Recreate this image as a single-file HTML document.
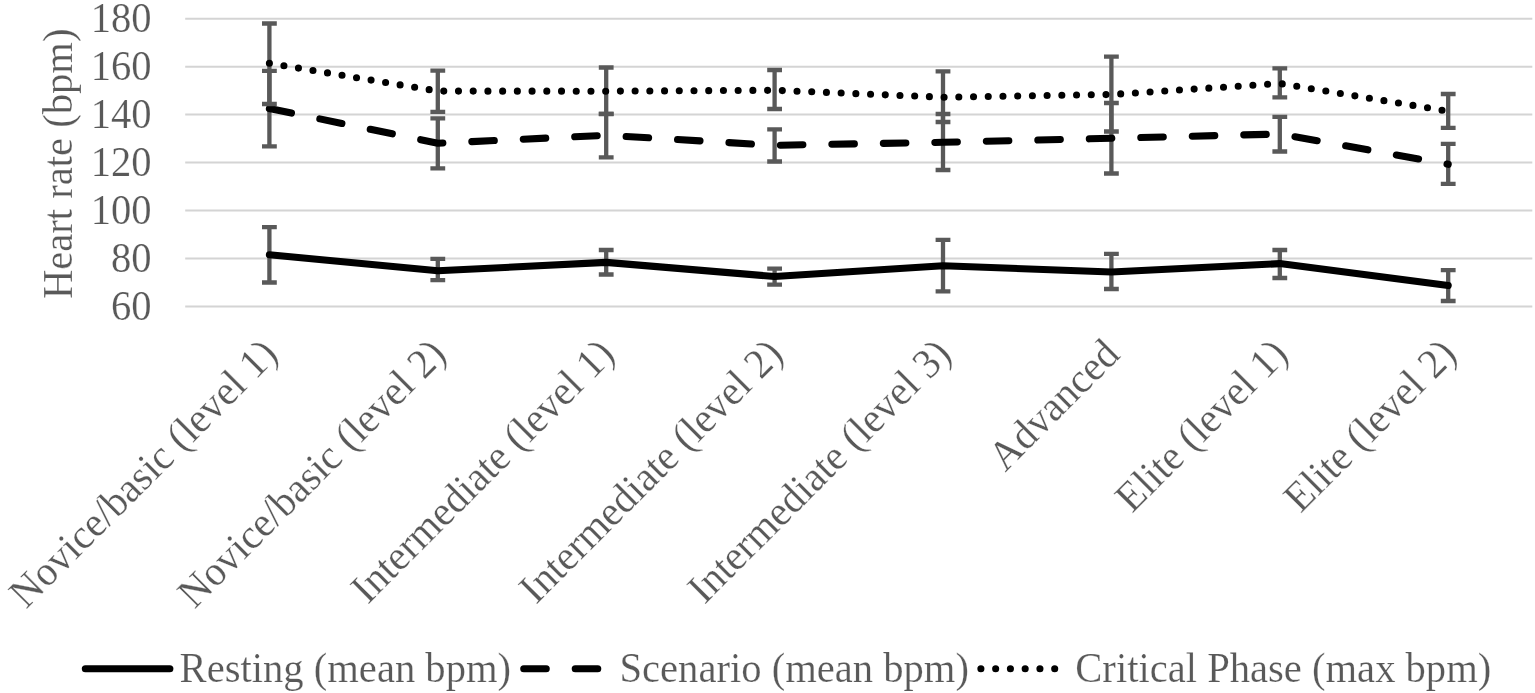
<!DOCTYPE html>
<html lang="en"><head><meta charset="utf-8"><title>Heart rate by level</title>
<style>html,body{margin:0;padding:0;background:#fff;overflow:hidden}svg{display:block}text{font-family:"Liberation Serif","Times New Roman",serif;font-size:40.6px;fill:#595959;stroke:#fff;stroke-width:0.2px;paint-order:fill stroke}</style>
</head><body>
<svg width="1535" height="693" viewBox="0 0 1535 693">
<rect width="1535" height="693" fill="#ffffff"/>
<g stroke="#d4d4d4" stroke-width="2" fill="none">
<line x1="185.2" y1="18.70" x2="1532.3" y2="18.70"/>
<line x1="185.2" y1="66.65" x2="1532.3" y2="66.65"/>
<line x1="185.2" y1="114.60" x2="1532.3" y2="114.60"/>
<line x1="185.2" y1="162.55" x2="1532.3" y2="162.55"/>
<line x1="185.2" y1="210.50" x2="1532.3" y2="210.50"/>
<line x1="185.2" y1="258.45" x2="1532.3" y2="258.45"/>
<line x1="185.2" y1="306.40" x2="1532.3" y2="306.40"/>
</g>
<text transform="translate(151.60,32.10) scale(1,1.03)" text-anchor="end">180</text>
<text transform="translate(151.60,80.05) scale(1,1.03)" text-anchor="end">160</text>
<text transform="translate(151.60,128.00) scale(1,1.03)" text-anchor="end">140</text>
<text transform="translate(151.60,175.95) scale(1,1.03)" text-anchor="end">120</text>
<text transform="translate(151.60,223.90) scale(1,1.03)" text-anchor="end">100</text>
<text transform="translate(151.60,271.85) scale(1,1.03)" text-anchor="end">80</text>
<text transform="translate(151.60,319.80) scale(1,1.03)" text-anchor="end">60</text>
<text transform="translate(71.80,299.00) rotate(-90) scale(1,1.03)">Heart rate (bpm)</text>
<path d="M269.4 227.1V282.5M262.0 227.1h14.8M262.0 282.5h14.8M437.8 258.9V280.2M430.4 258.9h14.8M430.4 280.2h14.8M606.2 250.0V274.5M598.8 250.0h14.8M598.8 274.5h14.8M774.6 268.6V284.6M767.2 268.6h14.8M767.2 284.6h14.8M943.0 239.9V291.3M935.6 239.9h14.8M935.6 291.3h14.8M1111.4 253.8V289.0M1104.0 253.8h14.8M1104.0 289.0h14.8M1279.8 250.0V278.0M1272.4 250.0h14.8M1272.4 278.0h14.8M1448.2 270.1V301.0M1440.8 270.1h14.8M1440.8 301.0h14.8" stroke="#595959" stroke-width="4.3" fill="none"/>
<polyline points="269.4,254.8 437.8,270.8 606.2,262.4 774.6,276.5 943.0,265.7 1111.4,272.0 1279.8,263.6 1448.2,285.5" fill="none" stroke="#000" stroke-width="7.1" stroke-linejoin="round" stroke-linecap="round" />
<path d="M269.4 70.9V146.3M262.0 70.9h14.8M262.0 146.3h14.8M437.8 118.3V168.3M430.4 118.3h14.8M430.4 168.3h14.8M606.2 114.0V157.3M598.8 114.0h14.8M598.8 157.3h14.8M774.6 129.3V161.5M767.2 129.3h14.8M767.2 161.5h14.8M943.0 114.0V170.0M935.6 114.0h14.8M935.6 170.0h14.8M1111.4 103.0V173.5M1104.0 103.0h14.8M1104.0 173.5h14.8M1279.8 116.8V151.5M1272.4 116.8h14.8M1272.4 151.5h14.8M1448.2 143.8V183.8M1440.8 143.8h14.8M1440.8 183.8h14.8" stroke="#595959" stroke-width="4.3" fill="none"/>
<polyline points="269.4,108.5 437.8,143.2 606.2,135.3 774.6,145.3 943.0,142.3 1111.4,138.3 1279.8,134.0 1448.2,164.3" fill="none" stroke="#000" stroke-width="7.1" stroke-linejoin="round" stroke-linecap="round" stroke-dasharray="22.5 29"/>
<path d="M269.4 23.5V104.0M262.0 23.5h14.8M262.0 104.0h14.8M437.8 70.6V111.8M430.4 70.6h14.8M430.4 111.8h14.8M606.2 67.5V113.9M598.8 67.5h14.8M598.8 113.9h14.8M774.6 70.0V109.0M767.2 70.0h14.8M767.2 109.0h14.8M943.0 71.3V122.0M935.6 71.3h14.8M935.6 122.0h14.8M1111.4 56.6V131.5M1104.0 56.6h14.8M1104.0 131.5h14.8M1279.8 68.3V97.3M1272.4 68.3h14.8M1272.4 97.3h14.8M1448.2 94.0V127.8M1440.8 94.0h14.8M1440.8 127.8h14.8" stroke="#595959" stroke-width="4.3" fill="none"/>
<polyline points="269.4,63.3 437.8,91.1 606.2,91.2 774.6,90.3 943.0,97.2 1111.4,94.5 1279.8,83.5 1448.2,111.2" fill="none" stroke="#000" stroke-width="7.1" stroke-linejoin="round" stroke-linecap="round" stroke-dasharray="0 14.72"/>
<text transform="translate(279.50,356.30) rotate(-45) scale(1,1.03)" text-anchor="end">Novice/basic (level 1)</text>
<text transform="translate(447.90,356.30) rotate(-45) scale(1,1.03)" text-anchor="end">Novice/basic (level 2)</text>
<text transform="translate(616.30,356.30) rotate(-45) scale(1,1.03)" text-anchor="end">Intermediate (level 1)</text>
<text transform="translate(784.70,356.30) rotate(-45) scale(1,1.03)" text-anchor="end">Intermediate (level 2)</text>
<text transform="translate(953.10,356.30) rotate(-45) scale(1,1.03)" text-anchor="end">Intermediate (level 3)</text>
<text transform="translate(1121.50,356.30) rotate(-45) scale(1,1.03)" text-anchor="end">Advanced</text>
<text transform="translate(1289.90,356.30) rotate(-45) scale(1,1.03)" text-anchor="end">Elite (level 1)</text>
<text transform="translate(1458.30,356.30) rotate(-45) scale(1,1.03)" text-anchor="end">Elite (level 2)</text>
<g fill="none" stroke="#000" stroke-width="7.1" stroke-linecap="round">
<line x1="85.35" y1="668.7" x2="169.85" y2="668.7"/>
<line x1="523.75" y1="668.7" x2="608" y2="668.7" stroke-dasharray="22.5 29"/>
<line x1="980.9" y1="668.7" x2="1056" y2="668.7" stroke-dasharray="0 14.76"/>
</g>
<text transform="translate(179.60,681.80) scale(1,1.03)">Resting (mean bpm)</text>
<text transform="translate(619.50,681.80) scale(1,1.03)">Scenario (mean bpm)</text>
<text transform="translate(1075.30,681.80) scale(1,1.03)">Critical Phase (max bpm)</text>
</svg>
</body></html>
